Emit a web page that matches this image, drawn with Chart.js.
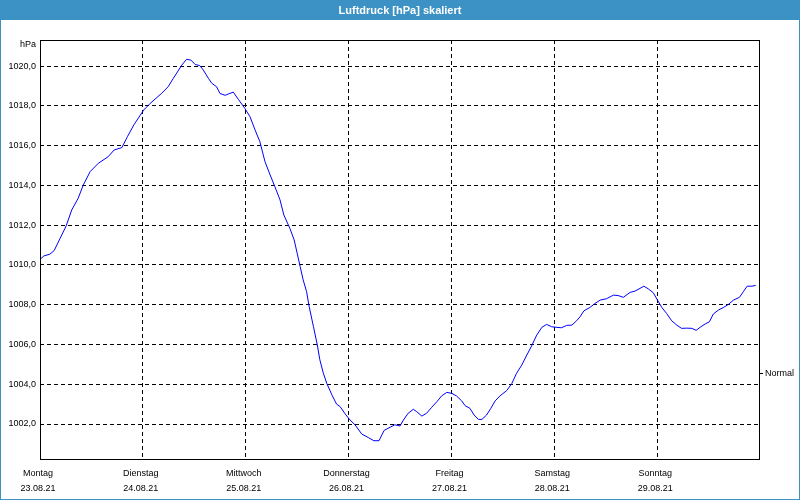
<!DOCTYPE html>
<html lang="de">
<head>
<meta charset="utf-8">
<title>Luftdruck [hPa] skaliert</title>
<script src="https://cdn.jsdelivr.net/npm/chart.js@4/dist/chart.umd.min.js"></script>
<style>
    html, body { margin: 0; padding: 0; background: #fff; }
    #wrap { width: 800px; height: 500px; }
</style>
</head>
<body>
<div id="wrap"><canvas id="pressureChart" width="800" height="500"></canvas></div>
<script>
// Stunden ab Montag 00:00 und Luftdruck (hPa)
const hours = [
    0, 0.9, 2.3, 3.3, 4.7, 6.1, 7.4, 8.9, 10.1, 11.7, 13.6, 15.9, 17.3, 19.1, 20.4, 21.9, 24.2, 25.7, 28.4, 29.9,
    31.1, 33.1, 34.2, 35.2, 36.2, 37.3, 38.1, 39.3, 40.1, 41.2, 42.0,
    43.2, 43.9, 45.1, 46.3, 47.8, 49.0, 50.2, 51.3, 52.5, 53.7, 54.8, 56.0, 56.9, 58.3, 59.3, 60.0, 60.7, 61.4, 62.2,
    62.8, 63.8, 64.7, 65.3, 66.1, 66.9, 68.1, 69.2, 70.0, 71.2, 72.3, 73.5, 75.1, 76.6, 77.9, 79.1, 80.3, 81.7, 82.8, 84.0,
    84.8, 85.9, 87.1, 87.9, 89.1, 90.2, 91.4, 92.6, 93.7, 94.9, 96.1, 97.2, 98.4, 99.2, 100.3, 101.3, 102.3, 103.1,
    104.2, 105.2, 106.2, 107.3, 108.9, 110.1, 111.2, 112.4, 113.6, 114.7, 115.9, 117.1, 118.2, 119.4, 120.6, 121.7,
    122.9, 124.1, 125.2, 126.0,
    126.9, 128.3, 129.5, 130.7, 132.2, 133.8, 134.9, 136.1, 137.7, 138.8, 140.0, 140.9, 141.9, 143.1, 144.0, 145.1,
    146.2, 147.4, 148.6, 149.7, 150.9, 152.1, 153.1, 154.2, 155.2, 156.2, 157.1, 158.3, 159.4, 160.6, 161.8, 163.2,
    164.1, 165.0, 166.1, 167.0
];
const pressure = [
    1010.28, 1010.45, 1010.54, 1010.72, 1011.34, 1011.96, 1012.76, 1013.35, 1014.02, 1014.69, 1015.11, 1015.44,
    1015.78, 1015.9, 1016.45, 1017.04, 1017.79, 1018.12, 1018.63, 1018.96, 1019.38, 1020.05, 1020.34, 1020.30,
    1020.08, 1020.02, 1019.8, 1019.38, 1019.13, 1018.96, 1018.62,
    1018.53, 1018.59, 1018.69, 1018.32, 1017.87, 1017.45, 1016.78, 1016.2, 1015.19, 1014.52, 1013.94, 1013.27,
    1012.51, 1011.84, 1011.26, 1010.59, 1009.92, 1009.25, 1008.66, 1007.91, 1006.9, 1005.98, 1005.23, 1004.56,
    1004.05, 1003.47, 1003.0, 1002.88, 1002.51, 1002.21, 1001.96, 1001.49, 1001.32, 1001.16, 1001.16, 1001.68,
    1001.84, 1001.96, 1001.9,
    1002.2, 1002.54, 1002.74, 1002.62, 1002.4, 1002.54, 1002.84, 1003.12, 1003.41, 1003.59, 1003.54, 1003.41,
    1003.16, 1002.92, 1002.79, 1002.45, 1002.23, 1002.23, 1002.45, 1002.79, 1003.16, 1003.41, 1003.68, 1004.04,
    1004.55, 1004.96, 1005.47, 1005.92, 1006.47, 1006.86, 1007.01, 1006.89, 1006.86, 1006.84, 1006.96, 1006.97,
    1007.19, 1007.39,
    1007.69, 1007.86, 1008.06, 1008.23, 1008.3, 1008.48, 1008.46, 1008.37, 1008.62, 1008.68, 1008.82, 1008.93,
    1008.8, 1008.6, 1008.26, 1007.86, 1007.56, 1007.19, 1006.97, 1006.81, 1006.82, 1006.81, 1006.71, 1006.89,
    1007.03, 1007.14, 1007.53, 1007.73, 1007.85, 1008.01, 1008.23, 1008.37, 1008.65, 1008.93, 1008.93, 1008.97
];

// Achsenbeschriftungen
const dayNames = ['Montag', 'Dienstag', 'Mittwoch', 'Donnerstag', 'Freitag', 'Samstag', 'Sonntag'];
const dayDates = ['23.08.21', '24.08.21', '25.08.21', '26.08.21', '27.08.21', '28.08.21', '29.08.21'];
const dayTicks = [0, 24, 48, 72, 96, 120, 144];
const yTicks = [1002, 1004, 1006, 1008, 1010, 1012, 1014, 1016, 1018, 1020];
const normalValue = 1004.55;
const yMin = 1000.19, yMax = 1021.31;

const FONT = '"Liberation Sans", Arial, sans-serif';
const HEADER_BLUE = '#3c92c4';
const DASH = [4, 3];

// Hintergrund, Titelbalken, Rahmen, "hPa"
const framePlugin = {
    id: 'frame',
    beforeDraw(chart) {
        const ctx = chart.ctx;
        ctx.save();
        ctx.fillStyle = '#ffffff';
        ctx.fillRect(0, 0, chart.width, chart.height);
        ctx.fillStyle = HEADER_BLUE;
        ctx.fillRect(0, 0, chart.width, 20);
        ctx.strokeStyle = HEADER_BLUE;
        ctx.lineWidth = 1;
        ctx.strokeRect(0.5, 0.5, chart.width - 1, chart.height - 1);
        ctx.restore();
    },
    afterDraw(chart) {
        const ctx = chart.ctx;
        const a = chart.chartArea;
        const l = Math.round(a.left) + 0.5, r = Math.round(a.right) - 0.5;
        const t = Math.round(a.top) + 0.5, b = Math.round(a.bottom) - 0.5;
        ctx.save();
        ctx.strokeStyle = '#000';
        ctx.lineWidth = 1;
        ctx.setLineDash([]);
        ctx.strokeRect(l, t, r - l, b - t);
        ctx.fillStyle = '#000';
        ctx.font = '9px ' + FONT;
        ctx.textAlign = 'right';
        ctx.textBaseline = 'middle';
        ctx.fillText('hPa', a.left - 4, a.top + 5);
        ctx.restore();
    }
};

document.addEventListener('DOMContentLoaded', () => {
    const ctx = document.getElementById('pressureChart').getContext('2d');
    new Chart(ctx, {
        type: 'line',
        data: {
            datasets: [{
                label: 'Luftdruck',
                data: hours.map((h, i) => ({ x: h, y: pressure[i] })),
                borderColor: '#0000ff',
                borderWidth: 1,
                pointRadius: 0,
                tension: 0,
                fill: false
            }]
        },
        options: {
            responsive: false,
            animation: false,
            layout: { padding: 0 },
            plugins: {
                legend: { display: false },
                tooltip: { enabled: false },
                title: {
                    display: true,
                    text: 'Luftdruck [hPa] skaliert',
                    color: '#ffffff',
                    font: { family: FONT, size: 11, weight: 'bold', lineHeight: 1.2 },
                    padding: { top: 4, bottom: 22.8 }
                }
            },
            scales: {
                x: {
                    type: 'linear',
                    min: 0,
                    max: 168,
                    afterFit: s => { s.height = 40; },
                    afterBuildTicks: s => { s.ticks = dayTicks.map(v => ({ value: v })); },
                    border: { display: false, dash: DASH },
                    grid: { color: '#000', lineWidth: 1, drawTicks: false, borderDash: DASH },
                    ticks: {
                        color: '#000',
                        padding: 6,
                        labelOffset: -2,
                        maxRotation: 0,
                        autoSkip: false,
                        font: { family: FONT, size: 9, lineHeight: '15px' },
                        callback: v => [dayNames[v / 24], dayDates[v / 24]]
                    }
                },
                y: {
                    type: 'linear',
                    min: yMin,
                    max: yMax,
                    afterFit: s => { s.width = 40; },
                    afterBuildTicks: s => { s.ticks = yTicks.map(v => ({ value: v })); },
                    border: { display: false, dash: DASH },
                    grid: { color: '#000', lineWidth: 1, drawTicks: false, borderDash: DASH },
                    ticks: {
                        color: '#000',
                        padding: 4,
                        font: { family: FONT, size: 9 },
                        callback: v => v.toFixed(1).replace('.', ',')
                    }
                },
                y2: {
                    type: 'linear',
                    position: 'right',
                    min: yMin,
                    max: yMax,
                    afterFit: s => { s.width = 40; },
                    afterBuildTicks: s => { s.ticks = [{ value: normalValue }]; },
                    border: { display: false },
                    grid: { drawOnChartArea: false, drawTicks: true, tickLength: 3, color: '#000' },
                    ticks: {
                        color: '#000',
                        padding: 2,
                        font: { family: FONT, size: 9 },
                        callback: () => 'Normal'
                    }
                }
            }
        },
        plugins: [framePlugin]
    });
});
</script>
</body>
</html>
